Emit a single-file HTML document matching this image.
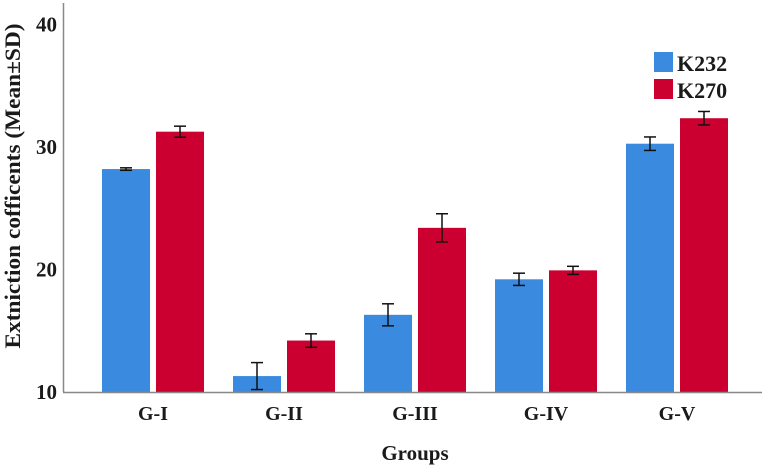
<!DOCTYPE html>
<html><head><meta charset="utf-8"><style>
body{margin:0;background:#fff}
svg text{font-family:"Liberation Serif",serif;font-weight:bold;fill:#1a1a1a}
</style></head><body>
<svg id="chart" width="762" height="468" viewBox="0 0 762 468" xmlns="http://www.w3.org/2000/svg">
<g id="bars"></g>
<line x1="63.5" y1="3" x2="63.5" y2="392" stroke="#888" stroke-width="1.5"/>
<line x1="63" y1="392.5" x2="762" y2="392.5" stroke="#888" stroke-width="1.5"/>
<g id="yticks"></g><g id="xticks"></g>
<text transform="translate(20,186) rotate(-90)" text-anchor="middle" font-size="22" textLength="325" lengthAdjust="spacingAndGlyphs">Extniction cofficents (Mean±SD)</text>
<text x="415" y="460" text-anchor="middle" font-size="21">Groups</text>
<g>
<rect x="654" y="52" width="19" height="20" fill="#3a8ae0"/>
<text x="677" y="71" font-size="22">K232</text>
<rect x="654" y="79" width="19" height="20" fill="#cc0030"/>
<text x="677" y="98" font-size="22">K270</text>
</g>
</svg>
<script>
const categories=["G-I","G-II","G-III","G-IV","G-V"];
const k232=[28.2,11.3,16.3,19.2,30.27];
const k232sd=[0.1,1.1,0.9,0.5,0.55];
const k270=[31.25,14.2,23.4,19.93,32.35];
const k270sd=[0.45,0.55,1.15,0.33,0.55];
const yTicks=[10,20,30,40];
const NS="http://www.w3.org/2000/svg";
function y(v){return 392-(v-10)*12.25;}
function xc(i){return 153+i*131;}
const bars=document.getElementById('bars');
function mk(t,a){const e=document.createElementNS(NS,t);for(const k in a)e.setAttribute(k,a[k]);return e;}
const series=[{v:k232,sd:k232sd,c:"#3a8ae0",n:"k232",off:-51},{v:k270,sd:k270sd,c:"#cc0030",n:"k270",off:3}];
categories.forEach((cat,i)=>{
 series.forEach(s=>{
  const x=xc(i)+s.off, top=y(s.v[i]);
  const r=mk('rect',{x:x,y:top,width:48,height:392-top,fill:s.c});
  
  
  bars.appendChild(r);
  const cx=x+24, hi=y(s.v[i]+s.sd[i]), lo=y(s.v[i]-s.sd[i]);
  const g=mk('g',{stroke:'#111','stroke-width':1.5});
  
  
  g.appendChild(mk('line',{x1:cx,y1:hi,x2:cx,y2:lo}));
  g.appendChild(mk('line',{x1:cx-6,y1:hi,x2:cx+6,y2:hi}));
  g.appendChild(mk('line',{x1:cx-6,y1:lo,x2:cx+6,y2:lo}));
  bars.appendChild(g);
 });
 const t=mk('text',{x:xc(i),y:420,'text-anchor':'middle','font-size':20});
 
 
 t.textContent=cat;
 document.getElementById('xticks').appendChild(t);
});
yTicks.forEach(v=>{
 const t=mk('text',{x:57,y:y(v)+7,'text-anchor':'end','font-size':21});
 
 
 t.textContent=v;
 document.getElementById('yticks').appendChild(t);
});
</script>
</body></html>
